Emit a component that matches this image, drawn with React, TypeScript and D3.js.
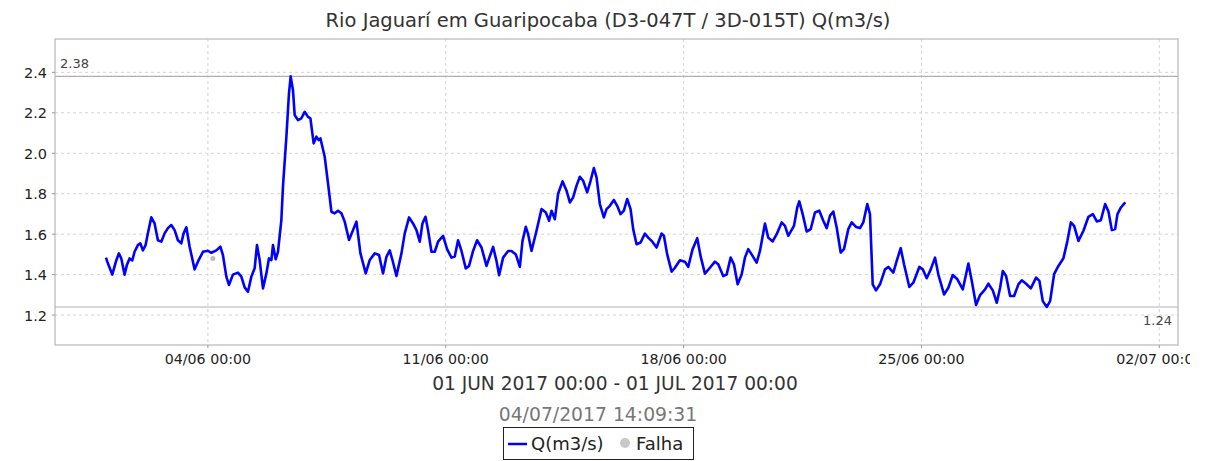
import React from "react";
import * as d3 from "d3";

// leituras: dia de junho (fracionário, 31 = 01/07) e vazão Q(m3/s)
const dayOfJune = [
  1.0, 1.056, 1.186, 1.303, 1.38, 1.451, 1.548, 1.615, 1.695, 1.774, 1.842, 1.939, 2.01, 2.087, 2.166,
  2.234, 2.334, 2.431, 2.528, 2.628, 2.726, 2.823, 2.923, 3.02, 3.117, 3.217, 3.285, 3.365, 3.462,
  3.609, 3.706, 3.854, 4.001, 4.101, 4.248, 4.366, 4.442, 4.543, 4.619, 4.737, 4.884, 4.984, 5.082,
  5.179, 5.279, 5.376, 5.444, 5.523, 5.621, 5.721, 5.797, 5.868, 5.915, 5.995, 6.062, 6.162, 6.209,
  6.309, 6.386, 6.436, 6.504, 6.554, 6.651, 6.751, 6.848, 6.946, 7.016, 7.113, 7.193, 7.26, 7.311,
  7.437, 7.535, 7.635, 7.732, 7.829, 7.929, 8.026, 8.153, 8.271, 8.371, 8.489, 8.645, 8.762, 8.91,
  9.036, 9.154, 9.254, 9.351, 9.431, 9.549, 9.696, 9.793, 9.92, 10.037, 10.138, 10.235, 10.314,
  10.403, 10.479, 10.579, 10.677, 10.774, 10.921, 11.039, 11.168, 11.265, 11.362, 11.463, 11.589,
  11.686, 11.804, 11.922, 12.052, 12.199, 12.296, 12.393, 12.493, 12.57, 12.688, 12.835, 12.935,
  13.062, 13.18, 13.259, 13.356, 13.424, 13.524, 13.671, 13.818, 13.945, 14.042, 14.113, 14.21,
  14.307, 14.437, 14.555, 14.652, 14.749, 14.849, 14.946, 15.044, 15.162, 15.262, 15.359, 15.438,
  15.535, 15.653, 15.732, 15.83, 15.947, 16.045, 16.145, 16.242, 16.339, 16.439, 16.516, 16.616,
  16.734, 16.86, 16.958, 17.058, 17.205, 17.352, 17.42, 17.517, 17.647, 17.744, 17.891, 18.039,
  18.136, 18.265, 18.401, 18.501, 18.627, 18.775, 18.922, 19.019, 19.166, 19.266, 19.384, 19.481,
  19.59, 19.708, 19.805, 19.902, 20.002, 20.149, 20.247, 20.394, 20.491, 20.621, 20.739, 20.886,
  20.983, 21.08, 21.248, 21.345, 21.404, 21.504, 21.622, 21.74, 21.866, 21.993, 22.111, 22.211,
  22.308, 22.405, 22.505, 22.623, 22.72, 22.847, 22.947, 23.073, 23.191, 23.288, 23.406, 23.485,
  23.565, 23.662, 23.78, 23.927, 24.025, 24.172, 24.272, 24.389, 24.487, 24.643, 24.761, 24.937,
  25.038, 25.155, 25.273, 25.4, 25.497, 25.665, 25.792, 25.921, 26.057, 26.216, 26.313, 26.381,
  26.481, 26.607, 26.725, 26.872, 26.97, 27.099, 27.217, 27.315, 27.394, 27.491, 27.609, 27.726,
  27.853, 27.953, 28.08, 28.218, 28.374, 28.471, 28.571, 28.689, 28.786, 28.904, 29.031, 29.178,
  29.296, 29.396, 29.493, 29.62, 29.767, 29.914, 30.044, 30.161, 30.279, 30.406, 30.503, 30.603,
  30.7, 30.768, 30.871, 30.998,
];

const flow = [
  1.484, 1.456, 1.4, 1.47, 1.505, 1.48, 1.4, 1.447, 1.48, 1.47, 1.513, 1.546, 1.555, 1.52, 1.546,
  1.604, 1.683, 1.653, 1.57, 1.563, 1.604, 1.63, 1.645, 1.62, 1.57, 1.555, 1.604, 1.634, 1.538,
  1.426, 1.464, 1.513, 1.518, 1.508, 1.52, 1.538, 1.497, 1.39, 1.349, 1.4, 1.41, 1.39, 1.337,
  1.315, 1.39, 1.431, 1.546, 1.472, 1.332, 1.406, 1.48, 1.472, 1.546, 1.476, 1.513, 1.67, 1.835,
  2.08, 2.296, 2.38, 2.312, 2.189, 2.164, 2.173, 2.205, 2.18, 2.173, 2.049, 2.082, 2.065, 2.074,
  1.983, 1.851, 1.711, 1.703, 1.716, 1.703, 1.662, 1.571, 1.62, 1.662, 1.505, 1.406, 1.472, 1.505,
  1.497, 1.406, 1.488, 1.52, 1.472, 1.393, 1.505, 1.604, 1.683, 1.653, 1.62, 1.563, 1.653,
  1.686, 1.62, 1.513, 1.513, 1.563, 1.592, 1.526, 1.484, 1.49, 1.57, 1.517, 1.431,
  1.443, 1.517, 1.57, 1.534, 1.443, 1.49, 1.537, 1.468, 1.397, 1.484, 1.517, 1.517,
  1.5, 1.438, 1.567, 1.636, 1.6, 1.517, 1.617, 1.724, 1.707, 1.666, 1.716, 1.674,
  1.8, 1.861, 1.815, 1.757, 1.782, 1.84, 1.884, 1.864, 1.807, 1.864, 1.927, 1.881,
  1.749, 1.683, 1.724, 1.74, 1.769, 1.74, 1.699, 1.716, 1.774, 1.724, 1.625, 1.55,
  1.559, 1.603, 1.583, 1.567, 1.534, 1.603, 1.592, 1.5, 1.415, 1.434, 1.471, 1.464,
  1.438, 1.526, 1.58, 1.49, 1.405, 1.434, 1.464, 1.451, 1.393, 1.4, 1.484, 1.451,
  1.352, 1.4, 1.484, 1.526, 1.5, 1.459, 1.517, 1.653, 1.583, 1.564, 1.6, 1.658,
  1.641, 1.592, 1.641, 1.732, 1.762, 1.699, 1.613, 1.625, 1.707, 1.716, 1.666, 1.63,
  1.691, 1.712, 1.633, 1.509, 1.526, 1.625, 1.658, 1.636, 1.63, 1.658, 1.749, 1.699,
  1.352, 1.322, 1.352, 1.426, 1.438, 1.41, 1.468, 1.531, 1.451, 1.339, 1.36, 1.438,
  1.426, 1.382, 1.426, 1.484, 1.4, 1.302, 1.335, 1.398, 1.377, 1.327, 1.402, 1.455,
  1.369, 1.25, 1.299, 1.327, 1.355, 1.322, 1.261, 1.335, 1.418, 1.393, 1.294, 1.294,
  1.352, 1.372, 1.355, 1.332, 1.385, 1.369, 1.269, 1.24, 1.269, 1.402, 1.443, 1.481,
  1.567, 1.658, 1.641, 1.567, 1.617, 1.686, 1.699, 1.663, 1.669, 1.749, 1.712, 1.62,
  1.625, 1.699, 1.732, 1.757,
];

// ponto de falha (cinza)
const falhaDay = [4.148];
const falhaValue = [1.48];

const yTicks = [1.2, 1.4, 1.6, 1.8, 2.0, 2.2, 2.4];
const xTickDays = [4, 11, 18, 25, 32];

const title = "Rio Jaguarí em Guaripocaba (D3-047T / 3D-015T) Q(m3/s)";
const periodLabel = "01 JUN 2017 00:00 - 01 JUL 2017 00:00";
const generatedLabel = "04/07/2017 14:09:31";

const base = new Date(2017, 5, 1).getTime();
const toDate = (d: number) => new Date(base + (d - 1) * 864e5);

const W = 1216;
const H = 461;
const plot = { left: 55, top: 39, right: 1178, bottom: 345 };
const font = "'DejaVu Sans', sans-serif";

export default function App() {
  const x = d3
    .scaleTime()
    .domain([toDate(-0.5), toDate(32.55)])
    .range([plot.left, plot.right]);
  const y = d3.scaleLinear().domain([1.052, 2.565]).range([plot.bottom, plot.top]);

  const data = dayOfJune.map((d, i) => ({ t: toDate(d), v: flow[i] }));
  const line = d3
    .line<{ t: Date; v: number }>()
    .x((d) => x(d.t))
    .y((d) => y(d.v));

  const vMax = d3.max(flow) as number;
  const vMin = d3.min(flow) as number;
  const fmtX = d3.timeFormat("%d/%m %H:%M");

  return (
    <svg
      width={W}
      height={H}
      style={{ position: "absolute", left: 0, top: 0, background: "#fff" }}
      fontFamily={font}
    >
      <defs>
        <clipPath id="canvasClip">
          <rect x={0} y={0} width={1190} height={H} />
        </clipPath>
      </defs>

      <text x={608} y={27} textAnchor="middle" fontSize={19.5} fill="#333">
        {title}
      </text>

      {/* grade */}
      {yTicks.map((t) => (
        <line
          key={"gy" + t}
          x1={plot.left}
          x2={plot.right}
          y1={y(t)}
          y2={y(t)}
          stroke="#d4d4d4"
          strokeDasharray="3,3"
        />
      ))}
      {xTickDays.map((d) => (
        <line
          key={"gx" + d}
          x1={x(toDate(d))}
          x2={x(toDate(d))}
          y1={plot.top}
          y2={plot.bottom}
          stroke="#d4d4d4"
          strokeDasharray="3,3"
        />
      ))}

      {/* máximo / mínimo */}
      <line x1={plot.left} x2={plot.right} y1={y(vMax)} y2={y(vMax)} stroke="#b0b0b0" strokeWidth={1.2} />
      <line x1={plot.left} x2={plot.right} y1={y(vMin)} y2={y(vMin)} stroke="#b0b0b0" strokeWidth={1.2} />
      <text x={plot.left + 5} y={y(vMax) - 8} fontSize={13} fill="#444">
        {vMax.toFixed(2)}
      </text>
      <text x={plot.right - 6} y={y(vMin) + 18} fontSize={13} fill="#444" textAnchor="end">
        {vMin.toFixed(2)}
      </text>

      {/* moldura */}
      <rect
        x={plot.left}
        y={plot.top}
        width={plot.right - plot.left}
        height={plot.bottom - plot.top}
        fill="none"
        stroke="#b8b8b8"
        strokeWidth={1.2}
      />

      {/* eixo y */}
      {yTicks.map((t) => (
        <g key={"ty" + t}>
          <line x1={plot.left - 3} x2={plot.left} y1={y(t)} y2={y(t)} stroke="#999" />
          <text x={plot.left - 8} y={y(t) + 5.5} textAnchor="end" fontSize={14.5} fill="#222">
            {t.toFixed(1)}
          </text>
        </g>
      ))}

      {/* eixo x */}
      <g clipPath="url(#canvasClip)">
        {xTickDays.map((d) => (
          <g key={"tx" + d}>
            <line x1={x(toDate(d))} x2={x(toDate(d))} y1={plot.bottom} y2={plot.bottom + 3} stroke="#999" />
            <text x={x(toDate(d))} y={plot.bottom + 19} textAnchor="middle" fontSize={14.2} fill="#222">
              {fmtX(toDate(d))}
            </text>
          </g>
        ))}
      </g>

      <path d={line(data) ?? ""} fill="none" stroke="#0000ff" strokeWidth={2.6} strokeLinejoin="round" />
      {falhaDay.map((d, i) => (
        <circle key={"f" + i} cx={x(toDate(d))} cy={y(falhaValue[i])} r={2.5} fill="#bdbdbd" />
      ))}

      <text x={615} y={390} textAnchor="middle" fontSize={18.6} fill="#333">
        {periodLabel}
      </text>
      <text x={598} y={421} textAnchor="middle" fontSize={18.8} fill="#777">
        {generatedLabel}
      </text>

      {/* legenda */}
      <rect x={503.5} y={427.5} width={190} height={32} fill="#fff" stroke="#222" strokeWidth={1} />
      <line x1={508} x2={527} y1={444} y2={444} stroke="#0000ff" strokeWidth={2.5} />
      <text x={531} y={450} fontSize={18} fill="#222">
        Q(m3/s)
      </text>
      <circle cx={625} cy={443} r={5} fill="#c8c8c8" />
      <text x={636} y={450} fontSize={18} fill="#222">
        Falha
      </text>
    </svg>
  );
}
